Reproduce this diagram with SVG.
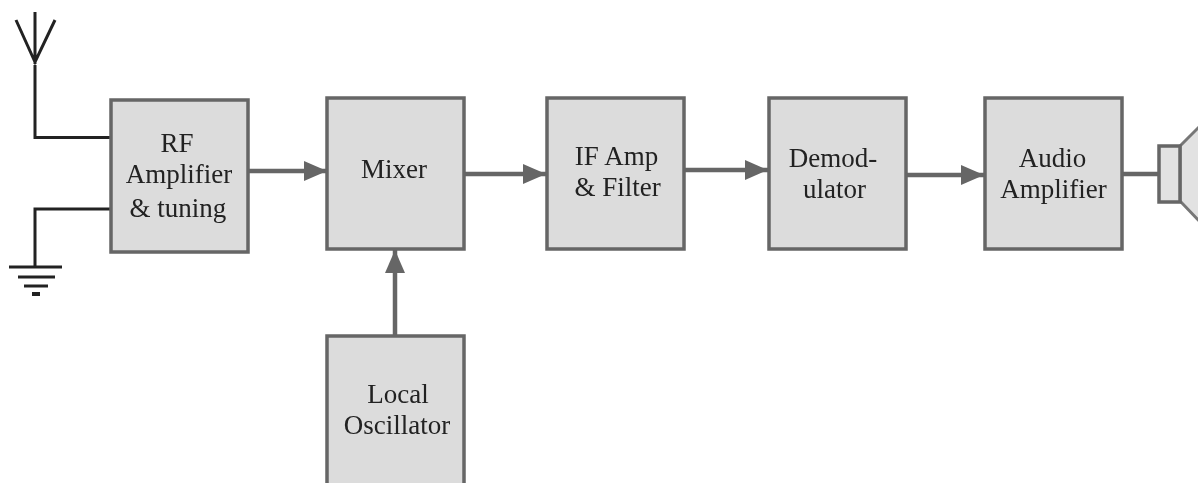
<svg xmlns="http://www.w3.org/2000/svg" width="1198" height="483" viewBox="0 0 1198 483">
<style>
.box{fill:#dcdcdc;stroke:#666;stroke-width:3.5}
.t{font-family:"Liberation Serif","Times New Roman",serif;font-size:27px;fill:#222;text-anchor:middle}
.c{fill:none;stroke:#666;stroke-width:4.5}
.k{fill:none;stroke:#222;stroke-width:3}
.spk{fill:#e2e2e2;stroke:#777;stroke-width:3}
</style>
<defs>
<marker id="a" markerUnits="userSpaceOnUse" markerWidth="24" markerHeight="22" refX="23" refY="11" orient="auto"><path d="M0 1L23 11L0 21Z" fill="#666"/></marker>
<filter id="soft" x="0" y="0" width="100%" height="100%"><feGaussianBlur stdDeviation="0.45"/></filter>
</defs>
<rect width="1198" height="483" fill="#fff"/>
<g filter="url(#soft)">
<g id="connectors">
<path class="c" d="M248 171H327" marker-end="url(#a)"/>
<path class="c" d="M464 174H546" marker-end="url(#a)"/>
<path class="c" d="M685 170H768" marker-end="url(#a)"/>
<path class="c" d="M907 175H984" marker-end="url(#a)"/>
<path class="c" d="M395 335V250" marker-end="url(#a)"/>
<path class="c" d="M1122 174H1158"/>
<path class="k" d="M110 137.500H35V65"/>
<path class="k" d="M110 209H35V266"/>
</g>
<g id="antenna"><path class="k" d="M35 12V64M16 20L35 62L55 20"/></g>
<g id="ground"><path class="k" d="M9 267H62M18 277H55M24 286H48"/><path d="M32 294H40" fill="none" stroke="#222" stroke-width="4"/></g>
<g id="rf"><rect class="box" x="111" y="100" width="137" height="152"/><text class="t"><tspan x="177" y="152">RF</tspan><tspan x="179" y="183">Amplifier</tspan><tspan x="178" y="217">&amp; tuning</tspan></text></g>
<g id="mixer"><rect class="box" x="327" y="98" width="137" height="151"/><text class="t" x="394" y="178">Mixer</text></g>
<g id="if"><rect class="box" x="547" y="98" width="137" height="151"/><text class="t"><tspan x="616.500" y="165">IF Amp</tspan><tspan x="617.500" y="196">&amp; Filter</tspan></text></g>
<g id="demod"><rect class="box" x="769" y="98" width="137" height="151"/><text class="t"><tspan x="833" y="167">Demod-</tspan><tspan x="834.500" y="198">ulator</tspan></text></g>
<g id="audio"><rect class="box" x="985" y="98" width="137" height="151"/><text class="t"><tspan x="1052.500" y="167">Audio</tspan><tspan x="1053.500" y="198">Amplifier</tspan></text></g>
<g id="osc"><rect class="box" x="327" y="336" width="137" height="160"/><text class="t"><tspan x="398" y="403">Local</tspan><tspan x="397" y="434">Oscillator</tspan></text></g>
<g id="speaker"><path class="spk" d="M1180 146L1204 122V226L1180 201Z"/><rect x="1159" y="146" width="21" height="56" fill="#e2e2e2" stroke="#666" stroke-width="3.500"/></g>
</g>
</svg>
